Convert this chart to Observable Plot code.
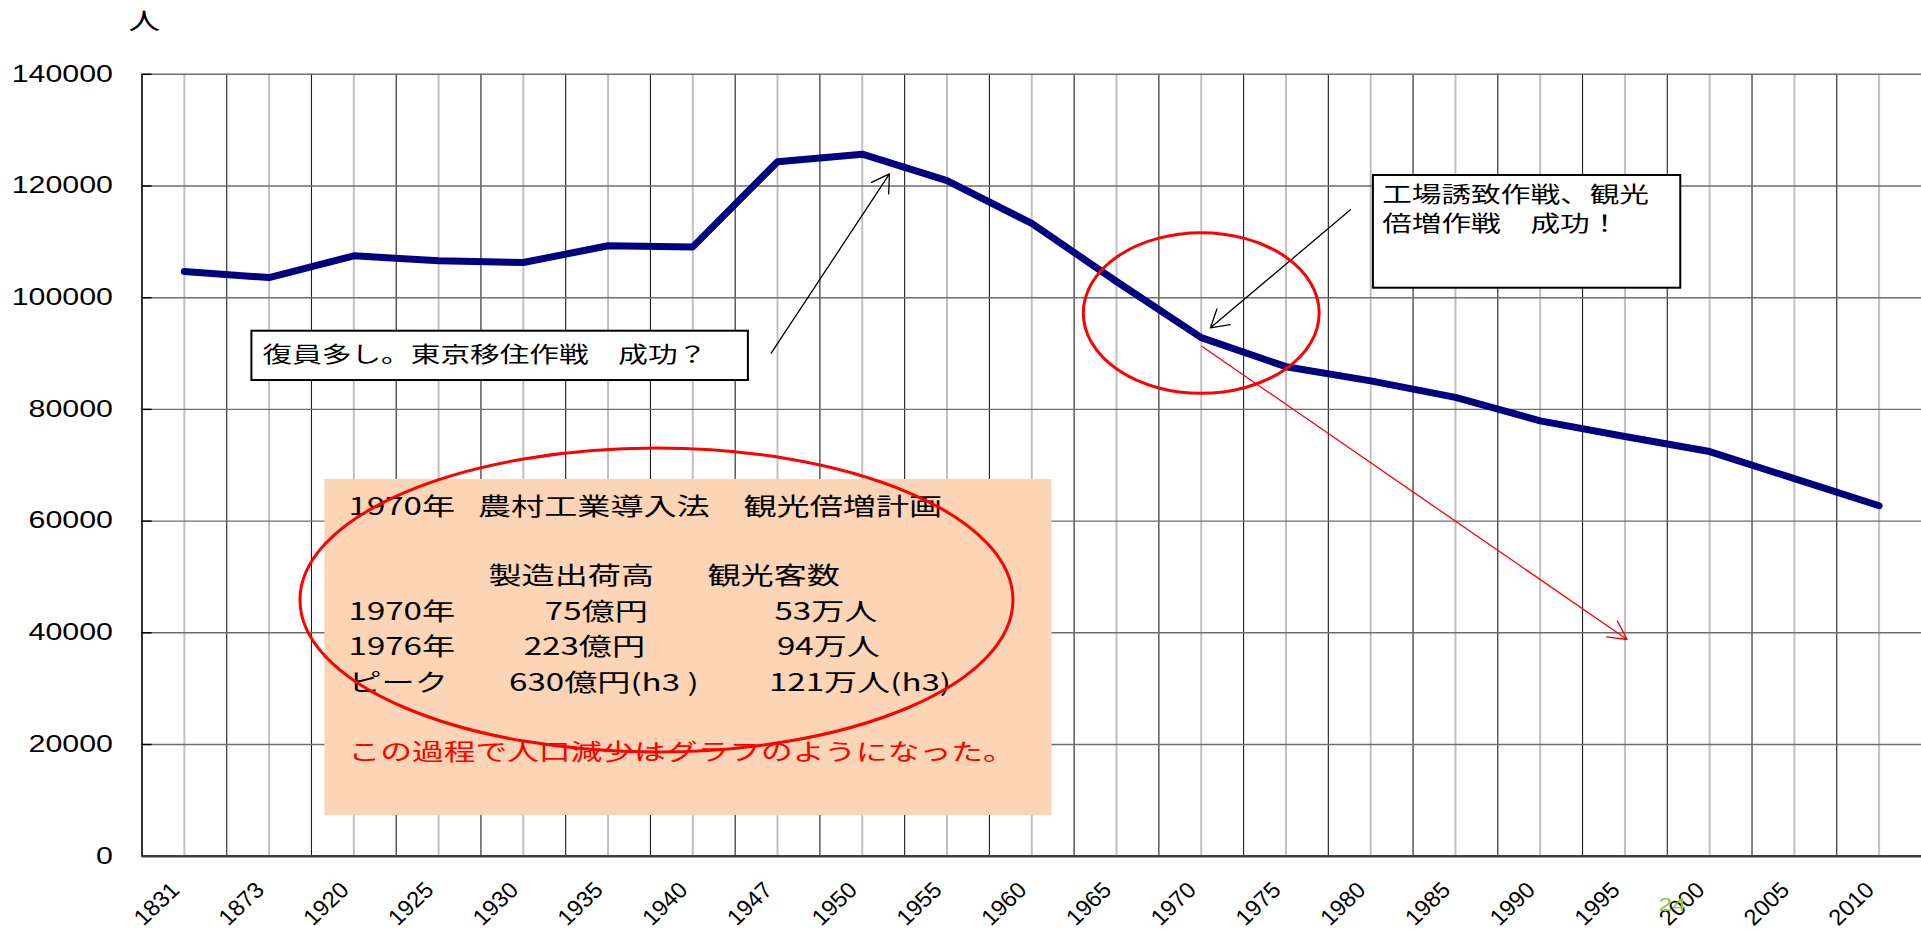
<!DOCTYPE html>
<html>
<head>
<meta charset="utf-8">
<script src="https://cdn.jsdelivr.net/npm/d3@7"></script>
<script src="https://cdn.jsdelivr.net/npm/@observablehq/plot@0.6"></script>
<style>
  html, body { margin: 0; padding: 0; background: #ffffff; overflow: hidden; }
  #chart svg { display: block; }
</style>
</head>
<body>
<div id="chart"></div>
<script>
// ---- data ----
const years = ["1831","1873","1920","1925","1930","1935","1940","1947","1950","1955","1960","1965","1970","1975","1980","1985","1990","1995","2000","2005","2010"];
const population = [104700, 103600, 107500, 106600, 106300, 109300, 109100, 124350, 125700, 120950, 113300, 102900, 92850, 87650, 85100, 82150, 77950, 75150, 72450, 67600, 62750];
const yTicks = [0, 20000, 40000, 60000, 80000, 100000, 120000, 140000];
const yUnit = ["人"];

// ---- annotations (in data units: x = category index, y = people) ----
const noteBoxes = [
  {x1: 0.797, x2: 6.656, y1: 85170, y2: 94000},
  {x1: 14.032, x2: 17.659, y1: 101700, y2: 121880}
];
const noteTexts = [
  {text: "復員多し。東京移住作戦　成功？", x: 0.922, y: 89650},
  {text: "工場誘致作戦、観光", x: 14.135, y: 118300},
  {text: "倍増作戦　成功！", x: 14.135, y: 113230}
];
const blackArrows = [
  {x1: 6.925, y1: 90060, x2: 8.321, y2: 122180},
  {x1: 13.761, y1: 115740, x2: 12.109, y2: 94610}
];
const redArrows = [{x1: 12.011, y1: 91260, x2: 17.026, y2: 38800}];
const panel = [{x1: 1.658, x2: 10.240, y1: 7290, y2: 67450}];
const panelTexts = [
  {text: "1970年", x: 1.937, y: 62380},
  {text: "農村工業導入法", x: 3.465, y: 62380},
  {text: "観光倍増計画", x: 6.598, y: 62380},
  {text: "製造出荷高", x: 3.589, y: 50135},
  {text: "観光客数", x: 6.173, y: 50135},
  {text: "1970年", x: 1.937, y: 43580},
  {text: "75億円", x: 4.254, y: 43580},
  {text: "53万人", x: 6.964, y: 43580},
  {text: "1976年", x: 1.937, y: 37420},
  {text: "223億円", x: 4.004, y: 37420},
  {text: "94万人", x: 6.993, y: 37420},
  {text: "ピーク", x: 1.937, y: 30975},
  {text: "630億円(h3 )", x: 3.832, y: 30975},
  {text: "121万人(h3)", x: 6.898, y: 30975}
];
const panelRed = [{text: "この過程で人口減少はグラフのようになった。", x: 1.937, y: 18620}];
const ellipses = [
  {cx: 12.006, cy: 97170, rx: 1.392, ry: 14380},
  {cx: 5.577, cy: 45780, rx: 4.207, ry: 27215}
];
const pageNo = [{text: "24", x: 17.56, y: -8830}];

// ---- derived ----
const idx = years.map((d, i) => i);
const rows = years.map((y, i) => ({i, year: y, pop: population[i]}));
const bounds = idx.slice(0, -1).map(i => i + 0.5);
const CJK = "'Noto Sans CJK JP', 'Noto Sans', sans-serif";
const STRETCH = 1.38;
const STRETCH_Y = 1.32;
const STRETCH_X = 1.05;

const ellipseMark = (index, scales) => {
  const g = d3.create("svg:g");
  for (const e of ellipses) {
    const cx = scales.x(e.cx), cy = scales.y(e.cy);
    g.append("ellipse")
      .attr("cx", cx).attr("cy", cy)
      .attr("rx", Math.abs(scales.x(e.cx + e.rx) - cx))
      .attr("ry", Math.abs(scales.y(e.cy + e.ry) - cy))
      .attr("fill", "none").attr("stroke", "#ff0000").attr("stroke-width", 3);
  }
  return g.node();
};

const chart = Plot.plot({
  width: 1921,
  height: 930,
  marginLeft: 141.5,
  marginRight: 0,
  marginTop: 73.8,
  marginBottom: 74.3,
  style: {fontFamily: "'Liberation Sans', Arial, sans-serif", fontSize: "22px", background: "#ffffff", color: "#000", overflow: "visible"},
  x: {domain: [-0.5, years.length - 0.5], axis: null},
  y: {domain: [0, 140000], axis: null},
  marks: [
    Plot.ruleX(idx, {stroke: "#c0c0c0", strokeWidth: 2}),
    Plot.ruleX(bounds, {stroke: "#1e1e1e", strokeWidth: 1.1}),
    Plot.ruleY(yTicks, {stroke: "#6e6e6e", strokeWidth: 1.4}),
    Plot.ruleY(yTicks, {x1: -0.5, x2: -0.38, stroke: "#000", strokeWidth: 1.4}),
    Plot.ruleY([0], {stroke: "#404040", strokeWidth: 2.5}),
    Plot.ruleX([-0.5], {stroke: "#000", strokeWidth: 1.6}),
    Plot.axisY({ticks: yTicks, tickSize: 0, tickPadding: 29, tickFormat: d => String(d), label: null, fontSize: 23}),
    // x tick labels (category names), rotated
    Plot.text(idx, {x: d => d, y: () => 0, text: i => years[i], rotate: -45, textAnchor: "end", lineAnchor: "middle", dx: -9, dy: 30, fontSize: 22.5, fill: "#000"}),
    Plot.text(yUnit, {x: -0.471, y: 149450, text: d => d, textAnchor: "middle", lineAnchor: "middle", fontFamily: CJK, fontSize: 23, fill: "#000"}),
    // peach panel
    Plot.rect(panel, {x1: "x1", x2: "x2", y1: "y1", y2: "y2", fill: "#fbd5b5"}),
    Plot.text(panelTexts, {x: "x", y: "y", text: "text", textAnchor: "start", lineAnchor: "middle", fontFamily: CJK, fontSize: 24, fill: "#000"}),
    Plot.text(panelRed, {x: "x", y: "y", text: "text", textAnchor: "start", lineAnchor: "middle", fontFamily: CJK, fontSize: 23, fill: "#ff0000"}),
    // population line
    Plot.line(rows, {x: "i", y: "pop", stroke: "#000080", strokeWidth: 7, strokeLinejoin: "round", strokeLinecap: "round"}),
    // note boxes
    Plot.rect(noteBoxes, {x1: "x1", x2: "x2", y1: "y1", y2: "y2", fill: "#ffffff", stroke: "#000", strokeWidth: 2}),
    Plot.text(noteTexts, {x: "x", y: "y", text: "text", textAnchor: "start", lineAnchor: "middle", fontFamily: CJK, fontSize: 21.5, fill: "#000"}),
    // arrows
    Plot.arrow(blackArrows, {x1: "x1", y1: "y1", x2: "x2", y2: "y2", stroke: "#000", strokeWidth: 1.3, headLength: 23, headAngle: 62}),
    Plot.arrow(redArrows, {x1: "x1", y1: "y1", x2: "x2", y2: "y2", stroke: "#ff0000", strokeWidth: 1.3, headLength: 24, headAngle: 55}),
    ellipseMark,
    Plot.text(pageNo, {x: "x", y: "y", text: "text", textAnchor: "middle", lineAnchor: "middle", fontSize: 18, fill: "#8cc63e"})
  ]
});

// horizontal (screen) stretch of the text, as in the reference
chart.querySelectorAll("text").forEach(t => {
  let tr = t.getAttribute("transform") || "";
  if (tr.includes("rotate(")) {
    t.setAttribute("transform", tr.replace("rotate(", `scale(${STRETCH_X},1) rotate(`));
    return;
  }
  const s = t.closest('[aria-label="y-axis tick label"]') ? STRETCH_Y : STRETCH;
  if (tr) {
    tr = tr + ` scale(${s},1)`;
  } else {
    const x = +(t.getAttribute("x") || 0), y = +(t.getAttribute("y") || 0);
    tr = `translate(${x},${y}) scale(${s},1) translate(${-x},${-y})`;
  }
  t.setAttribute("transform", tr);
});

document.getElementById("chart").appendChild(chart);
</script>
</body>
</html>
